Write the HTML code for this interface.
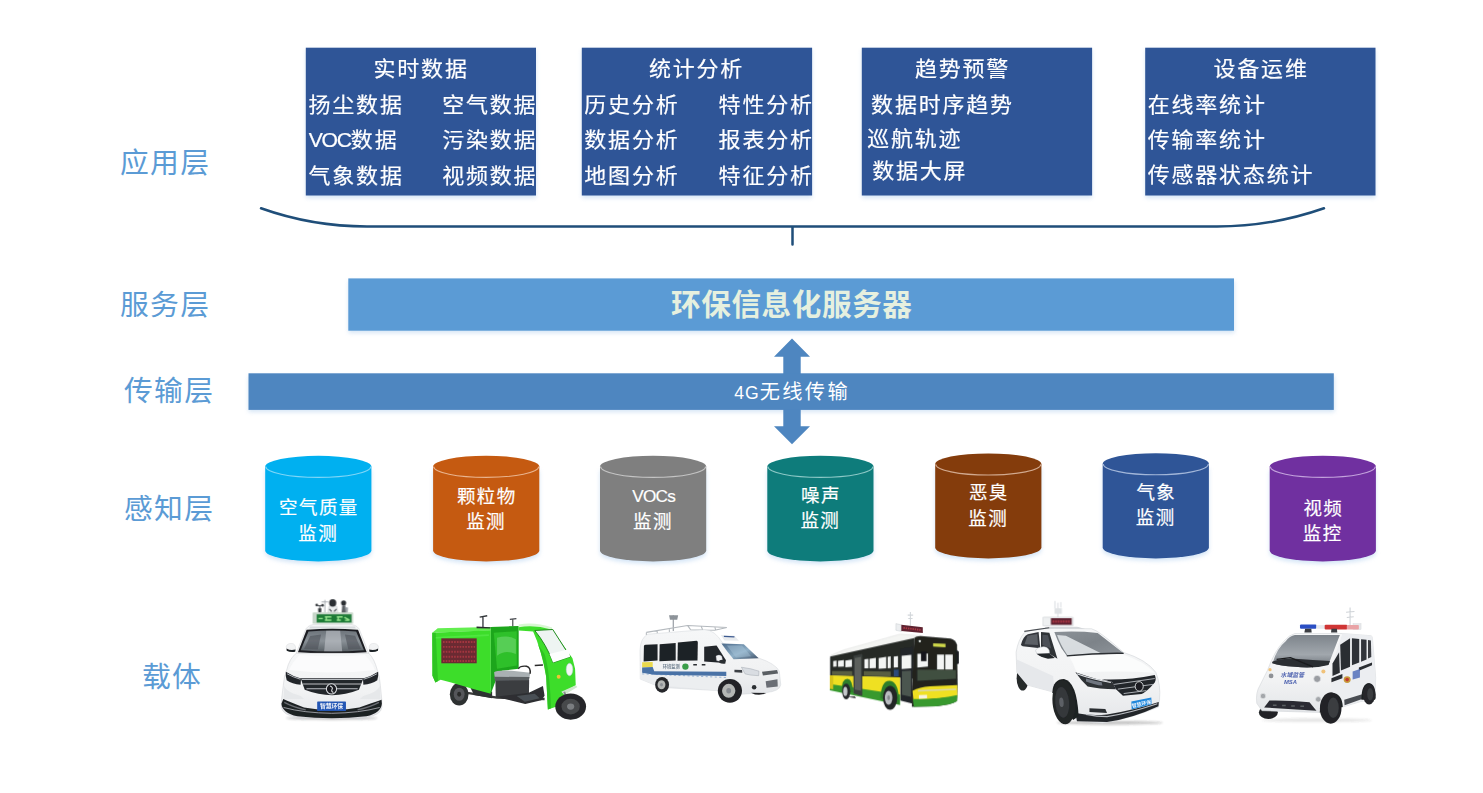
<!DOCTYPE html>
<html lang="zh-CN">
<head>
<meta charset="utf-8">
<title>环保信息化系统架构</title>
<style>
html,body{margin:0;padding:0;background:#fff;}
body{width:1483px;height:793px;overflow:hidden;position:relative;font-family:"Liberation Sans","Noto Sans CJK SC",sans-serif;}
#stage{position:absolute;left:0;top:0;width:1483px;height:793px;overflow:hidden;background:#fff;}
#shapes{position:absolute;left:0;top:0;}
.t{position:absolute;white-space:nowrap;line-height:1;margin:0;padding:0;}
.layer{color:#5b9bd5;font-size:28.8px;letter-spacing:1.3px;}
.bx{color:#fff;font-size:22px;letter-spacing:1.8px;transform:scaleY(.955);transform-origin:50% 85%;-webkit-text-stroke:.2px #fff;}
.la{font-size:21.2px;letter-spacing:-1.25px;}
.cy{color:#fff;font-size:18.5px;letter-spacing:1.4px;text-indent:1.4px;text-align:center;width:106px;line-height:25.6px;white-space:normal;-webkit-text-stroke:.2px #fff;}
.srv{color:#e6f0df;font-size:29.6px;letter-spacing:.6px;font-weight:bold;}
.tr{color:#fff;font-size:20.2px;letter-spacing:2.4px;}
.lg{font-size:17.6px;letter-spacing:1px;}
.lv{font-size:17.2px;letter-spacing:-.7px;}
</style>
</head>
<body>
<div id="stage">
<svg id="shapes" width="1483" height="793" viewBox="0 0 1483 793">
<defs>
<filter id="sh" x="-10%" y="-10%" width="120%" height="130%"><feGaussianBlur stdDeviation="2.2"/></filter>
<filter id="soft" x="-5%" y="-5%" width="110%" height="110%"><feGaussianBlur stdDeviation="3"/></filter>
<filter id="blur6" x="-20%" y="-100%" width="140%" height="300%"><feGaussianBlur stdDeviation="7"/></filter>
<linearGradient id="ws1" x1="0" y1="0" x2="0" y2="1"><stop offset="0" stop-color="#6d747b"/><stop offset=".5" stop-color="#8a9197"/><stop offset="1" stop-color="#5b6167"/></linearGradient>
<linearGradient id="body1" x1="0" y1="0" x2="0" y2="1"><stop offset="0" stop-color="#f6f7f8"/><stop offset=".6" stop-color="#f1f2f3"/><stop offset="1" stop-color="#e4e6e9"/></linearGradient>
<linearGradient id="ws3" x1="0" y1="0" x2="1" y2="1"><stop offset="0" stop-color="#4c6a8a"/><stop offset=".55" stop-color="#8fb0c8"/><stop offset="1" stop-color="#3d4f66"/></linearGradient>
<linearGradient id="ws5" x1="0" y1="0" x2="1" y2="1"><stop offset="0" stop-color="#8b9197"/><stop offset=".5" stop-color="#7d8389"/><stop offset="1" stop-color="#8e949a"/></linearGradient>
<linearGradient id="ws6" x1="0" y1="0" x2="0" y2="1"><stop offset="0" stop-color="#7d848b"/><stop offset=".6" stop-color="#a1a7ad"/><stop offset="1" stop-color="#6a7077"/></linearGradient>
</defs>
<!-- box shadows -->
<g fill="#9cc2e8" opacity=".42" filter="url(#sh)">
<rect x="306" y="50" width="230" height="148"/>
<rect x="582" y="50" width="230" height="148"/>
<rect x="862" y="50" width="230" height="148"/>
<rect x="1145.5" y="50" width="230" height="148"/>
<rect x="348.5" y="281" width="886" height="52"/>
<rect x="248.5" y="376" width="1086" height="36"/>
</g>
<!-- app boxes -->
<g fill="#2f5597">
<rect x="305.8" y="47.7" width="230.2" height="147.8"/>
<rect x="581.8" y="47.7" width="230.3" height="147.8"/>
<rect x="861.8" y="47.7" width="230.3" height="147.8"/>
<rect x="1145.2" y="47.7" width="230.3" height="147.8"/>
</g>
<!-- brace -->
<path d="M261 208.3 Q312 226.5 367 226.5 L1217 226.5 Q1272 226.5 1324 208.3 M792.5 226.5 L792.5 244.5" fill="none" stroke="#1f4e79" stroke-width="2.5" stroke-linecap="round"/>
<!-- server bar -->
<rect x="348.3" y="278.4" width="885.7" height="52.3" fill="#5b9bd5"/>
<!-- arrow -->
<path d="M792 338.4 L810 356.7 L800.7 356.7 L800.7 426.2 L810 426.2 L792 444.3 L774 426.2 L783.3 426.2 L783.3 356.7 L774 356.7 Z" fill="#4e86c0"/>
<!-- transmission bar -->
<rect x="248.5" y="373.3" width="1085.3" height="36.6" fill="#4e86c0"/>
<!-- cylinders -->
<g fill="#a9cbee" opacity=".5" filter="url(#sh)">
<path d="M265.2 470.6 L371.4 470.6 L371.4 553.1 A53.1 10.8 0 0 1 265.2 553.1 Z"/>
<path d="M433.1 470.6 L539.3 470.6 L539.3 553.1 A53.1 10.8 0 0 1 433.1 553.1 Z"/>
<path d="M600.0 470.6 L706.2 470.6 L706.2 553.1 A53.1 10.8 0 0 1 600.0 553.1 Z"/>
<path d="M767.3 470.6 L873.5 470.6 L873.5 553.1 A53.1 10.8 0 0 1 767.3 553.1 Z"/>
<path d="M935.2 468.2 L1041.4 468.2 L1041.4 550.1 A53.1 10.8 0 0 1 935.2 550.1 Z"/>
<path d="M1102.7 468.0 L1208.9 468.0 L1208.9 550.1 A53.1 10.8 0 0 1 1102.7 550.1 Z"/>
<path d="M1269.7 470.6 L1375.9 470.6 L1375.9 553.1 A53.1 10.8 0 0 1 1269.7 553.1 Z"/>
</g>
<path d="M265.2 466.6 A53.1 10.8 0 0 1 371.4 466.6 L371.4 550.6 A53.1 10.8 0 0 1 265.2 550.6 Z" fill="#00b0f0"/>
<path d="M265.7 466.6 A52.6 10.8 0 0 0 370.9 466.6" fill="none" stroke="#7fd6f7" stroke-width="1.1"/>
<path d="M433.1 466.6 A53.1 10.8 0 0 1 539.3 466.6 L539.3 550.6 A53.1 10.8 0 0 1 433.1 550.6 Z" fill="#c55a11"/>
<path d="M433.6 466.6 A52.6 10.8 0 0 0 538.8 466.6" fill="none" stroke="#e9b48f" stroke-width="1.1"/>
<path d="M600.0 466.6 A53.1 10.8 0 0 1 706.2 466.6 L706.2 550.6 A53.1 10.8 0 0 1 600.0 550.6 Z" fill="#7f7f7f"/>
<path d="M600.5 466.6 A52.6 10.8 0 0 0 705.7 466.6" fill="none" stroke="#c4c4c4" stroke-width="1.1"/>
<path d="M767.3 466.6 A53.1 10.8 0 0 1 873.5 466.6 L873.5 550.6 A53.1 10.8 0 0 1 767.3 550.6 Z" fill="#0e7c7b"/>
<path d="M767.8 466.6 A52.6 10.8 0 0 0 873.0 466.6" fill="none" stroke="#8cc8c6" stroke-width="1.1"/>
<path d="M935.2 464.2 A53.1 10.8 0 0 1 1041.4 464.2 L1041.4 547.6 A53.1 10.8 0 0 1 935.2 547.6 Z" fill="#843c0c"/>
<path d="M935.7 464.2 A52.6 10.8 0 0 0 1040.9 464.2" fill="none" stroke="#d1a98f" stroke-width="1.1"/>
<path d="M1102.7 464.0 A53.1 10.8 0 0 1 1208.9 464.0 L1208.9 547.6 A53.1 10.8 0 0 1 1102.7 547.6 Z" fill="#2f5597"/>
<path d="M1103.2 464.0 A52.6 10.8 0 0 0 1208.4 464.0" fill="none" stroke="#a3b7d9" stroke-width="1.1"/>
<path d="M1269.7 466.6 A53.1 10.8 0 0 1 1375.9 466.6 L1375.9 550.6 A53.1 10.8 0 0 1 1269.7 550.6 Z" fill="#7030a0"/>
<path d="M1270.2 466.6 A52.6 10.8 0 0 0 1375.4 466.6" fill="none" stroke="#c3a2dc" stroke-width="1.1"/>

<!-- vehicle 1: white MPV front view -->
<g transform="translate(270,590) scale(0.1703)" filter="url(#soft)">
<ellipse cx="362" cy="752" rx="270" ry="9" fill="#3a3d42" opacity=".35" filter="url(#blur6)"/>
<!-- sensors -->
<path d="M322 58 L322 132 M302 70 L342 70" stroke="#9da2a8" stroke-width="5" fill="none"/>
<path d="M276 92 L308 92 M292 92 L292 132" stroke="#4a4e54" stroke-width="6" fill="none"/>
<circle cx="274" cy="88" r="8" fill="#3a3d42"/><circle cx="308" cy="90" r="8" fill="#3a3d42"/>
<path d="M282 108 L302 108 L300 132 L284 132 Z" fill="#33363a"/>
<path d="M346 96 Q368 84 392 96 L398 134 L340 134 Z" fill="#eceeef" stroke="#b9bdc2" stroke-width="3"/>
<path d="M348 112 L362 126 M390 112 L376 126" stroke="#3a3d42" stroke-width="6"/>
<ellipse cx="368" cy="76" rx="21" ry="22" fill="#2b2e33"/>
<circle cx="432" cy="76" r="15" fill="#2b2e33"/>
<path d="M424 90 L442 90 L446 134 L420 134 Z" fill="#5a5e64"/>
<path d="M440 100 L458 104 L456 134 L444 134 Z" fill="#9aa0a6"/>
<!-- LED sign -->
<rect x="250" y="132" width="238" height="66" rx="5" fill="#c7d6c9"/>
<rect x="274" y="143" width="204" height="48" fill="#1c7a36"/>
<path d="M284 168 h26 M322 158 h38 M322 177 h38 M330 158 v20 M392 158 h34 M400 158 v22 M392 177 h24 M436 160 l30 16 M440 178 h26" stroke="#a6f29a" stroke-width="8" fill="none" opacity=".9"/>
<!-- roof + cabin -->
<path d="M206 240 Q216 208 258 202 L476 202 Q518 208 528 240 L580 372 L154 372 Z" fill="#f3f4f5" stroke="#cfd2d6" stroke-width="3"/>
<path d="M236 214 L498 214 L504 226 L230 226 Z" fill="#d9dcdf"/>
<path d="M215 234 Q366 222 517 234 L568 366 Q366 380 164 366 Z" fill="#1c1e21"/>
<path d="M226 244 Q366 232 506 244 L552 354 Q366 368 180 354 Z" fill="url(#ws1)"/>
<path d="M330 240 L412 240 L424 360 L318 360 Z" fill="#c4c9ce" opacity=".55"/>
<path d="M236 270 L300 262 L280 350 L200 346 Z M440 262 L500 268 L534 346 L460 350 Z" fill="#4a4f55" opacity=".55"/>
<!-- mirrors -->
<path d="M95 332 Q100 312 130 314 Q152 318 150 345 L148 358 Q120 362 98 350 Z" fill="#f2f3f4" stroke="#c9cdd1" stroke-width="2"/>
<path d="M97 344 Q120 358 150 350 L148 362 Q120 368 98 356 Z" fill="#1f2125"/>
<path d="M637 332 Q632 312 602 314 Q580 318 582 345 L584 358 Q612 362 634 350 Z" fill="#f2f3f4" stroke="#c9cdd1" stroke-width="2"/>
<path d="M635 344 Q612 358 582 350 L584 362 Q612 368 634 356 Z" fill="#1f2125"/>
<!-- body -->
<path d="M154 372 Q114 402 98 470 Q82 505 78 560 L68 640 L67 690 Q75 736 160 746 Q362 766 566 746 Q650 736 657 690 L656 640 L648 560 Q644 505 630 470 Q612 402 580 372 Z" fill="url(#body1)" stroke="#cdd0d4" stroke-width="3"/>
<path d="M176 382 Q366 396 556 382 Q598 420 616 470 Q366 500 112 470 Q132 420 176 382 Z" fill="#fbfbfc"/>
<path d="M84 560 Q90 600 180 622 L200 640 L80 640 Z M644 560 Q638 600 548 622 L528 640 L648 640 Z" fill="#e6e8ea"/>
<!-- headlights -->
<path d="M93 480 Q132 506 182 520 L180 556 Q130 552 98 530 Q90 506 93 480 Z" fill="#23262b"/>
<path d="M635 480 Q596 506 546 520 L548 556 Q598 552 630 530 Q638 506 635 480 Z" fill="#23262b"/>
<path d="M100 492 Q135 512 178 524" stroke="#c9cdd2" stroke-width="5" fill="none"/>
<path d="M628 492 Q593 512 550 524" stroke="#c9cdd2" stroke-width="5" fill="none"/>
<!-- grille -->
<path d="M180 518 L549 518 L522 586 Q366 650 204 586 Z" fill="#24272b"/>
<path d="M186 526 H543 M194 552 H535 M214 580 H515" stroke="#b9bdc2" stroke-width="6" fill="none"/>
<circle cx="361" cy="581" r="30" fill="#1c1e21" stroke="#dfe2e6" stroke-width="6"/>
<path d="M352 564 Q372 570 364 584 Q358 596 372 602" stroke="#e6e8eb" stroke-width="6" fill="none"/>
<!-- lower bumper -->
<path d="M67 668 Q72 722 160 742 Q362 764 566 742 Q652 722 657 668 L655 644 Q600 662 524 690 L452 700 L274 700 L200 690 Q128 662 78 640 Z" fill="#1f2124"/>
<path d="M84 660 Q140 690 210 704 M640 660 Q584 690 514 704" stroke="#6a6e73" stroke-width="7" fill="none"/>
<path d="M80 690 Q200 722 362 724 Q524 722 644 690" stroke="#a9adb2" stroke-width="5" fill="none"/>
<!-- plate -->
<rect x="277" y="654" width="169" height="57" rx="4" fill="#2456b4"/>
<text x="361" y="695" font-size="34" font-weight="bold" fill="#f4f6fb" text-anchor="middle" font-family="'Liberation Sans','Noto Sans CJK SC',sans-serif">智慧环保</text>
</g>
<!-- vehicle 2: green electric tricycle -->
<g transform="translate(420,600) scale(0.16393)" filter="url(#soft)">
<!-- rear axle / frame -->
<path d="M250 560 L470 596 L760 604" stroke="#3a3a3a" stroke-width="14" fill="none"/>
<path d="M300 520 L440 560 L440 600 L330 580 Z" fill="#2e3032"/>
<!-- rear wheel -->
<ellipse cx="239" cy="575" rx="57" ry="68" fill="#2f3032"/>
<ellipse cx="239" cy="575" rx="33" ry="40" fill="#55575a"/>
<ellipse cx="239" cy="575" rx="12" ry="15" fill="#2a2a2a"/>
<!-- cargo box -->
<path d="M75 200 L108 172 L432 164 L432 186 Z" fill="#63ee50"/>
<path d="M75 200 L432 184 L432 572 L330 544 L190 504 L126 486 L94 504 L76 462 Z" fill="#3ddd2c"/>
<path d="M75 200 L96 200 L110 494 L94 504 L76 462 Z" fill="#2fc423"/>
<path d="M96 230 L420 214" stroke="#58ea48" stroke-width="10" opacity=".7"/>
<rect x="130" y="234" width="216" height="152" fill="#6b2a32"/>
<path d="M140 256 H336 M140 286 H336 M140 316 H336 M140 346 H336 M140 372 H336" stroke="#b23a44" stroke-width="12" stroke-dasharray="10 7" fill="none" opacity=".8"/>
<!-- middle section -->
<path d="M432 164 L602 158 L602 420 L500 432 L470 470 L432 572 Z" fill="#1fa61c"/>
<path d="M450 200 L590 190 L590 400 L470 420 Z" fill="#2fc02a"/>
<path d="M470 230 Q540 210 585 240 L585 330 Q520 300 470 340 Z" fill="#7fdc80" opacity=".5"/>
<!-- cab roof & front frame -->
<path d="M602 158 Q700 140 800 172 L930 356 L946 420 L950 520 L884 560 L862 640 L780 668 L770 470 Q740 300 690 192 L602 186 Z" fill="#3ddd2c"/>
<path d="M602 150 Q700 132 806 168 L800 180 Q700 150 602 166 Z" fill="#d8f7d2"/>
<path d="M770 470 Q760 380 720 270 L760 330 Q790 420 800 660 L780 668 Z" fill="#2fc423"/>
<!-- windshield -->
<path d="M700 186 L810 180 L916 346 L812 382 Q770 270 700 186 Z" fill="#eef4f2" stroke="#1f8a1c" stroke-width="6"/>
<path d="M790 330 L905 300 L916 346 L812 382 Z" fill="#fdfefe"/>
<!-- front details -->
<ellipse cx="912" cy="424" rx="20" ry="38" fill="#f4f8f4" stroke="#bcd" stroke-width="3"/>
<circle cx="846" cy="468" r="12" fill="#f2c230"/>
<path d="M862 560 L950 520 L960 530 L880 580 Z" fill="#cfe8cc"/>
<!-- seat -->
<path d="M460 486 L666 486 L664 596 L462 598 Z" fill="#3b3d40"/>
<path d="M452 440 Q470 426 560 432 L674 444 L664 486 L458 488 Z" fill="#a9b0b3"/>
<path d="M452 468 L668 470 L664 490 L458 492 Z" fill="#5a5e62"/>
<path d="M600 420 Q610 400 650 404 Q676 410 672 450" stroke="#2c2c2c" stroke-width="9" fill="none"/>
<path d="M700 400 L750 396" stroke="#2c2c2c" stroke-width="9" fill="none"/>
<!-- floor -->
<path d="M462 590 L580 576 L664 566 L750 524 L760 584 L740 612 L642 634 Z" fill="#2d2f31"/>
<path d="M590 586 L700 572 L730 600 L640 620 Z" fill="#4a5054"/>
<!-- front wheel -->
<path d="M880 560 L905 640" stroke="#8a8d90" stroke-width="12"/>
<ellipse cx="919" cy="650" rx="94" ry="80" fill="#262729"/>
<ellipse cx="919" cy="650" rx="56" ry="48" fill="#46484b"/>
<ellipse cx="919" cy="650" rx="22" ry="19" fill="#7a7d80"/>
<!-- roof sensors -->
<path d="M345 162 L430 166 L430 174 L345 172 Z" fill="#2a2c2e"/>
<path d="M384 100 L384 164 M364 104 L410 96" stroke="#33363a" stroke-width="8" fill="none"/>
<path d="M566 118 L566 160 M548 118 L588 114" stroke="#44474b" stroke-width="7" fill="none"/>
</g>
<!-- vehicle 3: white monitoring van -->
<g transform="translate(630,600) scale(0.15138)" filter="url(#soft)">
<!-- mast & roof rack -->
<path d="M286 100 L286 205" stroke="#9aa0a6" stroke-width="8"/>
<path d="M258 100 L318 100 L312 130 L264 130 Z" fill="#8d9399"/>
<path d="M108 214 L380 168 L640 182 M108 214 L108 232 M180 200 L180 222 M260 188 L260 212 M380 168 L400 196 M470 173 L480 196 M560 178 L566 198 M640 182 L560 200 L400 196" stroke="#b4b9be" stroke-width="7" fill="none"/>
<!-- body -->
<path d="M66 330 Q70 250 118 226 L490 196 Q560 196 612 284 L852 384 Q960 420 986 470 L996 560 Q990 602 900 612 L740 622 L600 600 L250 580 L160 560 L68 522 Z" fill="url(#body1)" stroke="#cfd3d8" stroke-width="3"/>
<path d="M66 330 L66 522 L160 560 L600 600 L600 520 L66 470 Z" fill="#eceef0"/>
<!-- side windows -->
<path d="M92 304 Q94 296 104 296 L182 292 L182 400 L90 406 Z" fill="#1f2226"/>
<path d="M196 292 L302 284 L302 400 L194 404 Z" fill="#1f2226"/>
<path d="M316 280 L440 270 Q448 270 448 280 L446 400 L314 402 Z" fill="#1f2226"/>
<path d="M490 308 L572 300 L634 398 L624 416 L490 406 Z" fill="#23262b"/>
<path d="M568 370 Q590 356 606 372 L612 400 Q592 410 572 400 Z" fill="#f1f2f3" stroke="#aab" stroke-width="2"/>
<path d="M590 400 Q610 390 632 402 L630 420 Q606 424 590 414 Z" fill="#2a2d31"/>
<!-- windshield -->
<path d="M604 288 L752 292 L850 384 L684 392 Q640 340 604 288 Z" fill="url(#ws3)"/>
<path d="M640 300 L740 300 L800 372 L700 380 Z" fill="#a9c6da" opacity=".45"/>
<path d="M600 232 L690 236 L720 270 L624 268 Z" fill="#e8ebee"/>
<path d="M620 240 L690 244" stroke="#3d5a90" stroke-width="8"/>
<!-- stripe -->
<path d="M80 412 L150 410 L150 442 L80 446 Z" fill="#ead94e"/>
<path d="M80 446 L150 442 L160 470 L636 474 L636 502 L160 494 L80 480 Z" fill="#4a72a6"/>
<path d="M80 488 L636 512" stroke="#4c7cb8" stroke-width="5" stroke-dasharray="14 16" opacity=".7"/>
<circle cx="366" cy="440" r="21" fill="#3a9e4a"/>
<text x="272" y="452" font-size="28" font-weight="bold" fill="#6f7f8f" text-anchor="middle" font-family="'Liberation Sans','Noto Sans CJK SC',sans-serif">环境监测</text>
<path d="M418 428 h24 M474 428 h24" stroke="#2a2d31" stroke-width="9"/>
<!-- headlight / grille -->
<path d="M736 444 Q800 452 852 470 L850 500 Q790 498 760 488 Z" fill="#d9dde2" stroke="#9aa0a8" stroke-width="3"/>
<path d="M872 474 L972 462 L978 486 L878 498 Z" fill="#5a5e64"/>
<path d="M896 536 L974 524 L976 572 L902 580 Z" fill="#6a6e74"/>
<path d="M690 460 L740 462 L742 480 L690 478 Z" fill="#3c3f44"/>
<circle cx="820" cy="576" r="15" fill="#2b2d31"/>
<!-- wheels -->
<ellipse cx="212" cy="560" rx="46" ry="52" fill="#25272a"/>
<ellipse cx="208" cy="560" rx="26" ry="30" fill="#b4b6b4"/>
<ellipse cx="208" cy="560" rx="10" ry="12" fill="#8c9096"/>
<ellipse cx="660" cy="600" rx="80" ry="78" fill="#222427"/>
<ellipse cx="652" cy="600" rx="44" ry="46" fill="#b4b6b4"/>
<ellipse cx="652" cy="600" rx="16" ry="18" fill="#868a90"/>
<path d="M800 612 Q850 640 900 614 Z" fill="#222427"/>
</g>

<!-- vehicle 4: yellow-green bus -->
<g transform="translate(815,600) scale(0.15138)" filter="url(#soft)">
<!-- roof sign -->
<path d="M630 80 L630 170 M612 100 L648 100 M616 122 L644 122" stroke="#d2d6da" stroke-width="7" fill="none"/>
<path d="M534 156 L572 164 L572 208 L534 200 Z" fill="#eceef0" stroke="#c5c9ce" stroke-width="3"/>
<path d="M570 164 L712 180 L712 218 L570 204 Z" fill="#5f2430"/>
<path d="M584 184 L700 198" stroke="#c0404c" stroke-width="12" stroke-dasharray="9 6" opacity=".85"/>
<!-- roof -->
<path d="M104 366 L190 330 L560 226 L700 236 L660 252 L104 376 Z" fill="#f4f5f3" stroke="#d5d8d4" stroke-width="3"/>
<!-- side: window band -->
<path d="M100 374 L656 252 L650 520 L560 512 L100 500 Z" fill="#262a27"/>
<!-- side: yellow + green -->
<path d="M98 498 L562 510 L562 650 L98 580 Z" fill="#efe022"/>
<path d="M98 556 L562 624 L562 694 L98 596 Z" fill="#37992f"/>
<path d="M98 498 L120 498 L120 590 L98 586 Z" fill="#d8c41c"/>
<!-- window light patches -->
<g fill="#f3f5f4">
<path d="M120 404 L142 400 L142 440 L120 442 Z"/>
<path d="M152 402 L190 396 L190 440 L152 442 Z"/>
<path d="M200 400 L244 394 L244 442 L200 444 Z"/>
<path d="M326 392 L352 388 L352 452 L326 452 Z"/>
<path d="M360 388 L402 382 L402 450 L360 452 Z"/>
<path d="M420 384 L470 376 L470 452 L420 454 Z"/>
<path d="M480 376 L500 372 L500 450 L480 452 Z"/>
<path d="M520 374 L548 370 L548 444 L520 446 Z"/>
<path d="M572 368 L636 362 L636 452 L572 456 Z"/>
</g>
<path d="M112 470 L246 470 L246 498 L112 496 Z M322 470 L500 472 L500 504 L322 500 Z" fill="#5a5f43"/>
<path d="M520 460 L552 460 L552 504 L520 504 Z" fill="#2d4b7a"/>
<!-- doors -->
<path d="M254 368 L312 356 L312 634 L254 618 Z" fill="#3a3f3d"/>
<path d="M262 384 L304 376 L304 600 L262 592 Z" fill="#5b615c"/>
<path d="M564 322 L642 310 L642 684 L564 664 Z" fill="#22262a"/>
<path d="M574 470 L634 466 L634 640 L574 626 Z" fill="#4c5650"/>
<path d="M572 368 L636 362 L636 452 L572 456 Z" fill="#f3f5f4"/>
<!-- wheel arches and wheels -->
<path d="M176 600 Q176 520 214 520 Q250 524 250 612 Z" fill="#2f7f2a"/>
<ellipse cx="206" cy="604" rx="27" ry="52" fill="#26282a"/>
<ellipse cx="200" cy="604" rx="14" ry="30" fill="#c5c8cb"/>
<path d="M432 650 Q436 530 494 534 Q556 540 556 690 Z" fill="#2f7f2a"/>
<ellipse cx="496" cy="646" rx="47" ry="80" fill="#232527"/>
<ellipse cx="486" cy="646" rx="25" ry="46" fill="#b9bcc0"/>
<ellipse cx="486" cy="646" rx="9" ry="16" fill="#84888c"/>
<path d="M214 640 L270 650 L262 636 Z" fill="#2a2c2e"/>
<!-- front face -->
<path d="M656 252 Q664 238 700 238 L896 254 Q930 264 938 296 L942 560 L938 668 Q900 694 800 702 L640 706 L640 600 Z" fill="#20231f"/>
<path d="M780 286 L862 290 L862 312 L780 308 Z" fill="#cfd84a"/>
<circle cx="692" cy="272" r="8" fill="#e9ece8"/>
<path d="M676 356 L746 354 L746 440 L676 446 Z" fill="#f3f5f4"/>
<path d="M806 360 L852 360 L852 460 L806 460 Z M860 360 L910 360 L910 460 L860 460 Z" fill="#f3f5f4"/>
<path d="M700 340 L736 340 L736 404 L700 404 Z" fill="#17191b"/>
<path d="M676 460 L930 462 L930 520 L676 534 Z" fill="#4a5a48" opacity=".8"/>
<path d="M934 330 L950 340 L950 420 L936 424 Z" fill="#1c1e20"/>
<!-- front lower -->
<path d="M644 600 Q690 574 760 570 L940 562 L940 640 L650 664 Z" fill="#efe022"/>
<path d="M680 600 L930 590" stroke="#d9d6b0" stroke-width="10"/>
<path d="M646 654 Q800 660 940 628 L938 668 Q900 694 800 702 L652 706 Z" fill="#37992f"/>
<path d="M686 628 L740 626 L740 650 L686 652 Z" fill="#f7f3e0"/>
</g>

<!-- vehicle 5: white MPV three-quarter view -->
<g transform="translate(1000,590) scale(0.18293)" filter="url(#soft)">
<ellipse cx="600" cy="726" rx="290" ry="10" fill="#333" opacity=".28" filter="url(#blur6)"/>
<!-- mast + roof sign -->
<path d="M316 70 L316 152 M300 100 L300 60 M332 96 L332 66" stroke="#d5d9dd" stroke-width="5" fill="none"/>
<rect x="298" y="100" width="40" height="30" fill="#dfe2e5"/>
<rect x="234" y="148" width="166" height="48" rx="4" fill="#eef0f1" stroke="#c8ccd0" stroke-width="3"/>
<rect x="278" y="154" width="114" height="36" fill="#5f2230"/>
<path d="M288 172 H384" stroke="#c8414e" stroke-width="12" stroke-dasharray="8 6" opacity=".85"/>
<path d="M250 200 L420 200 L470 214 L240 214 Z" fill="#d4d7da"/>
<!-- rear wheel -->
<ellipse cx="124" cy="482" rx="33" ry="68" fill="#27292c"/>
<!-- body -->
<path d="M88 340 Q100 270 134 232 Q180 210 300 210 L500 212 Q540 220 676 342 Q800 380 852 450 Q880 520 872 600 L866 640 Q700 706 560 728 L420 716 L400 660 L300 560 L150 520 L92 450 Z" fill="url(#body1)" stroke="#cdd1d5" stroke-width="3"/>
<path d="M92 380 L290 470 L300 560 L150 520 L92 450 Z" fill="#e6e8eb"/>
<path d="M133 226 L269 206" stroke="#4a4d52" stroke-width="6"/>
<!-- side windows -->
<path d="M114 300 Q126 254 152 242 L211 230 L220 318 L124 308 Z" fill="#33363b"/>
<path d="M224 230 L270 234 L314 376 L224 320 Z" fill="#2e3136"/>
<path d="M150 250 L204 240 L208 300 L134 296 Z" fill="#7d838a" opacity=".55"/>
<path d="M232 244 L262 248 L280 320 L232 300 Z" fill="#6a7077" opacity=".5"/>
<!-- windshield -->
<path d="M297 230 Q420 222 534 235 L676 346 Q520 344 365 360 L336 318 Q312 274 297 230 Z" fill="url(#ws5)"/>
<path d="M312 246 L360 250 L560 350 L368 356 Q330 300 312 246 Z" fill="#eef1f4" opacity=".8"/>
<path d="M365 360 Q520 344 676 346" stroke="#2a2d31" stroke-width="7" fill="none"/>
<!-- mirror -->
<path d="M194 332 Q200 312 240 310 Q270 314 270 340 L266 350 L204 352 Z" fill="#f6f7f8" stroke="#c3c7cb" stroke-width="3"/>
<path d="M200 348 L268 346 L300 372 L262 376 Q220 366 200 348 Z" fill="#24272b"/>
<!-- hood highlights -->
<path d="M380 366 Q540 352 670 352 Q790 390 846 452 Q640 440 420 452 Q400 400 380 366 Z" fill="#fbfcfc"/>
<!-- headlight -->
<path d="M412 450 Q480 474 537 489 L614 503 L634 542 Q540 540 479 527 Q445 498 412 450 Z" fill="#2d3035"/>
<path d="M420 458 Q490 484 606 506" stroke="#e4e7ea" stroke-width="6" fill="none"/>
<path d="M470 500 Q520 520 560 522 L556 504 Q510 496 470 484 Z" fill="#6f7680"/>
<!-- grille -->
<path d="M556 488 Q700 494 846 464 Q856 486 846 506 Q800 560 774 568 L672 578 L634 542 L614 503 Z" fill="#22252a"/>
<path d="M624 516 L846 484 M644 542 L836 516 M676 566 L800 550" stroke="#b7bbc0" stroke-width="5" fill="none"/>
<ellipse cx="761" cy="527" rx="22" ry="26" fill="#1c1e21" stroke="#dfe2e5" stroke-width="5"/>
<!-- lower bumper -->
<path d="M489 646 L576 650 L585 672 L489 667 Z" fill="#2c2f33"/>
<path d="M412 672 Q500 690 585 680 Q720 660 868 612 L866 636 Q720 704 585 722 L421 718 Z" fill="#24262a"/>
<path d="M470 680 Q530 692 585 692 Q700 676 860 622" stroke="#b9bdc2" stroke-width="6" fill="none"/>
<!-- plate -->
<path d="M718 609 L827 588 L829 624 L720 653 Z" fill="#2088dc"/>
<text x="773" y="632" font-size="27" font-weight="bold" fill="#eef6ff" text-anchor="middle" transform="rotate(-12.5 773 621)" font-family="'Liberation Sans','Noto Sans CJK SC',sans-serif">智慧环保</text>
<!-- front wheel -->
<path d="M286 560 Q290 486 350 486 Q420 500 430 690 L400 710 Z" fill="#1e2022"/>
<ellipse cx="349" cy="614" rx="62" ry="120" fill="#232528" transform="rotate(-5 349 614)"/>
<ellipse cx="340" cy="614" rx="38" ry="84" fill="#34373b" transform="rotate(-5 340 614)"/>
<ellipse cx="336" cy="614" rx="12" ry="26" fill="#5d6166" transform="rotate(-5 336 614)"/>
</g>
<!-- vehicle 6: white electric patrol cart -->
<g transform="translate(1240,590) scale(0.18286)" filter="url(#soft)">
<ellipse cx="420" cy="712" rx="300" ry="10" fill="#555" opacity=".15" filter="url(#blur6)"/>
<!-- mast -->
<path d="M602 96 L602 192 M580 122 L626 118 M584 150 L622 146" stroke="#cfd3d7" stroke-width="6" fill="none"/>
<rect x="618" y="184" width="44" height="32" fill="#e7e9eb" stroke="#cfd2d6" stroke-width="2"/>
<!-- light bar -->
<rect x="328" y="188" width="90" height="24" rx="6" fill="#2b4fc4"/>
<rect x="418" y="192" width="48" height="20" fill="#e8eaee"/>
<rect x="463" y="190" width="124" height="26" rx="6" fill="#cf3434"/>
<rect x="584" y="192" width="66" height="24" rx="4" fill="#e9a3a6"/>
<path d="M356 212 L390 212 L392 232 L352 232 Z M500 212 L530 212 L532 232 L498 232 Z" fill="#3a3d42"/>
<ellipse cx="155" cy="670" rx="52" ry="35" fill="#222427"/>
<!-- body -->
<path d="M300 238 L560 238 L716 250 Q724 252 724 262 L742 480 L738 596 L660 610 L560 640 L440 670 L120 660 L92 620 Q84 560 110 520 L150 440 Q190 330 240 280 Q268 246 300 238 Z" fill="url(#body1)" stroke="#cfd3d7" stroke-width="3"/>
<path d="M560 238 L716 250 Q724 252 724 262 L742 480 L738 596 L660 610 L560 640 L500 640 L500 420 Z" fill="#eceef1"/>
<!-- windshield -->
<path d="M178 400 Q200 320 250 280 Q272 250 300 246 L546 246 L484 408 Q400 432 300 420 Q220 414 178 400 Z" fill="url(#ws6)"/>
<path d="M176 392 Q220 372 300 376 Q400 384 492 388 L484 410 Q400 432 300 420 Q220 414 176 400 Z" fill="#2a2d32"/>
<path d="M200 380 L276 370 L400 420" stroke="#1a1c1f" stroke-width="7" fill="none"/>
<!-- side windows -->
<path d="M548 300 L602 264 L602 420 L552 440 Z" fill="#2b2e33"/>
<path d="M612 264 L652 268 L652 396 L612 412 Z" fill="#2f3237"/>
<path d="M662 270 L692 272 L692 380 L662 392 Z" fill="#33363b"/>
<path d="M700 274 L716 276 L718 366 L700 374 Z" fill="#3b3e43"/>
<path d="M506 402 L542 340 L546 452 L506 470 Z" fill="#2b2e33"/>
<path d="M500 482 L560 460 L560 482 L500 504 Z M650 424 L722 396 L722 412 L650 442 Z" fill="#2b2e33"/>
<!-- livery -->
<circle cx="586" cy="490" r="19" fill="#c89a3a"/><circle cx="586" cy="490" r="10" fill="#c23a32"/>
<path d="M616 446 L656 432 L656 478 L616 490 Z" fill="#4a68b8" opacity=".8"/>
<text x="286" y="478" font-size="32" font-weight="bold" font-style="italic" fill="#4a5fae" text-anchor="middle" font-family="'Liberation Sans','Noto Sans CJK SC',sans-serif">水域监管</text>
<text x="276" y="512" font-size="32" font-weight="bold" font-style="italic" fill="#4a5fae" text-anchor="middle" font-family="'Liberation Sans','Noto Sans CJK SC',sans-serif">MSA</text>
<!-- lights -->
<circle cx="422" cy="486" r="19" fill="#9a9da2" stroke="#dfe1e4" stroke-width="4"/>
<circle cx="170" cy="470" r="13" fill="#8e9196"/>
<circle cx="456" cy="446" r="11" fill="#f0c27a"/><circle cx="164" cy="436" r="9" fill="#f0c27a"/>
<circle cx="126" cy="580" r="15" fill="#a4a7ab" stroke="#e3e5e7" stroke-width="4"/>
<circle cx="428" cy="598" r="15" fill="#a4a7ab" stroke="#e3e5e7" stroke-width="4"/>
<!-- lower grille -->
<path d="M161 604 Q280 602 380 614 L418 660 L132 642 Z" fill="#2a2c30"/>
<path d="M180 630 h20 M230 632 h20 M280 634 h20 M330 636 h20" stroke="#5a5d62" stroke-width="8"/>
<!-- wheels -->
<path d="M436 670 Q440 566 500 560 Q560 566 562 640 Z" fill="#1f2124"/>
<ellipse cx="496" cy="646" rx="59" ry="85" fill="#222427"/>
<ellipse cx="510" cy="644" rx="30" ry="56" fill="#3a3d41"/>
<path d="M570 600 L668 570 L668 596 L572 630 Z" fill="#4a4d52"/>
<path d="M664 600 Q664 510 706 508 Q742 512 742 590 L738 600 Z" fill="#1f2124"/>
<ellipse cx="706" cy="570" rx="34" ry="56" fill="#26282b"/>
<ellipse cx="712" cy="570" rx="16" ry="34" fill="#3a3d41"/>
</g>
</svg>

<div class="t layer" style="left:120px;top:149px;">应用层</div>
<div class="t layer" style="left:120px;top:290.5px;">服务层</div>
<div class="t layer" style="left:124px;top:376.7px;">传输层</div>
<div class="t layer" style="left:124px;top:494.7px;">感知层</div>
<div class="t layer" style="left:142px;top:663px;">载体</div>


<!-- box 1 -->
<div class="t bx" style="left:373.5px;top:57.9px;">实时数据</div>
<div class="t bx" style="left:308.5px;top:93.8px;">扬尘数据</div>
<div class="t bx" style="left:442.2px;top:93.8px;">空气数据</div>
<div class="t bx" style="left:308.7px;top:129.2px;"><span class="la">VOC</span>数据</div>
<div class="t bx" style="left:442.2px;top:129.2px;">污染数据</div>
<div class="t bx" style="left:308.5px;top:164.5px;">气象数据</div>
<div class="t bx" style="left:442.2px;top:164.5px;">视频数据</div>
<!-- box 2 -->
<div class="t bx" style="left:648.9px;top:57.9px;">统计分析</div>
<div class="t bx" style="left:584.3px;top:94.0px;">历史分析</div>
<div class="t bx" style="left:718.6px;top:94.0px;">特性分析</div>
<div class="t bx" style="left:584.3px;top:129.3px;">数据分析</div>
<div class="t bx" style="left:718.6px;top:129.3px;">报表分析</div>
<div class="t bx" style="left:584.3px;top:164.5px;">地图分析</div>
<div class="t bx" style="left:718.6px;top:164.5px;">特征分析</div>
<!-- box 3 -->
<div class="t bx" style="left:914.9px;top:57.9px;">趋势预警</div>
<div class="t bx" style="left:871.1px;top:94.2px;">数据时序趋势</div>
<div class="t bx" style="left:867.2px;top:127.6px;">巡航轨迹</div>
<div class="t bx" style="left:872.2px;top:160.4px;">数据大屏</div>
<!-- box 4 -->
<div class="t bx" style="left:1213.5px;top:57.9px;">设备运维</div>
<div class="t bx" style="left:1147.7px;top:94.2px;">在线率统计</div>
<div class="t bx" style="left:1147.7px;top:129.4px;">传输率统计</div>
<div class="t bx" style="left:1147.7px;top:164.1px;">传感器状态统计</div>
<!-- cylinder labels -->
<div class="t cy" style="left:265.2px;top:495.2px;">空气质量<br>监测</div>
<div class="t cy" style="left:433.1px;top:483.6px;">颗粒物<br>监测</div>
<div class="t cy" style="left:600.0px;top:482.9px;"><span class="lv">VOCs</span><br>监测</div>
<div class="t cy" style="left:767.3px;top:482.9px;">噪声<br>监测</div>
<div class="t cy" style="left:935.2px;top:480.3px;">恶臭<br>监测</div>
<div class="t cy" style="left:1102.7px;top:479.5px;">气象<br>监测</div>
<div class="t cy" style="left:1269.7px;top:495.6px;">视频<br>监控</div>
<!-- server / transmission -->
<div class="t srv" style="left:671px;top:290.4px;">环保信息化服务器</div>
<div class="t tr" style="left:734.2px;top:382.2px;"><span class="lg">4G</span>无线传输</div>
</div>
</body>
</html>
